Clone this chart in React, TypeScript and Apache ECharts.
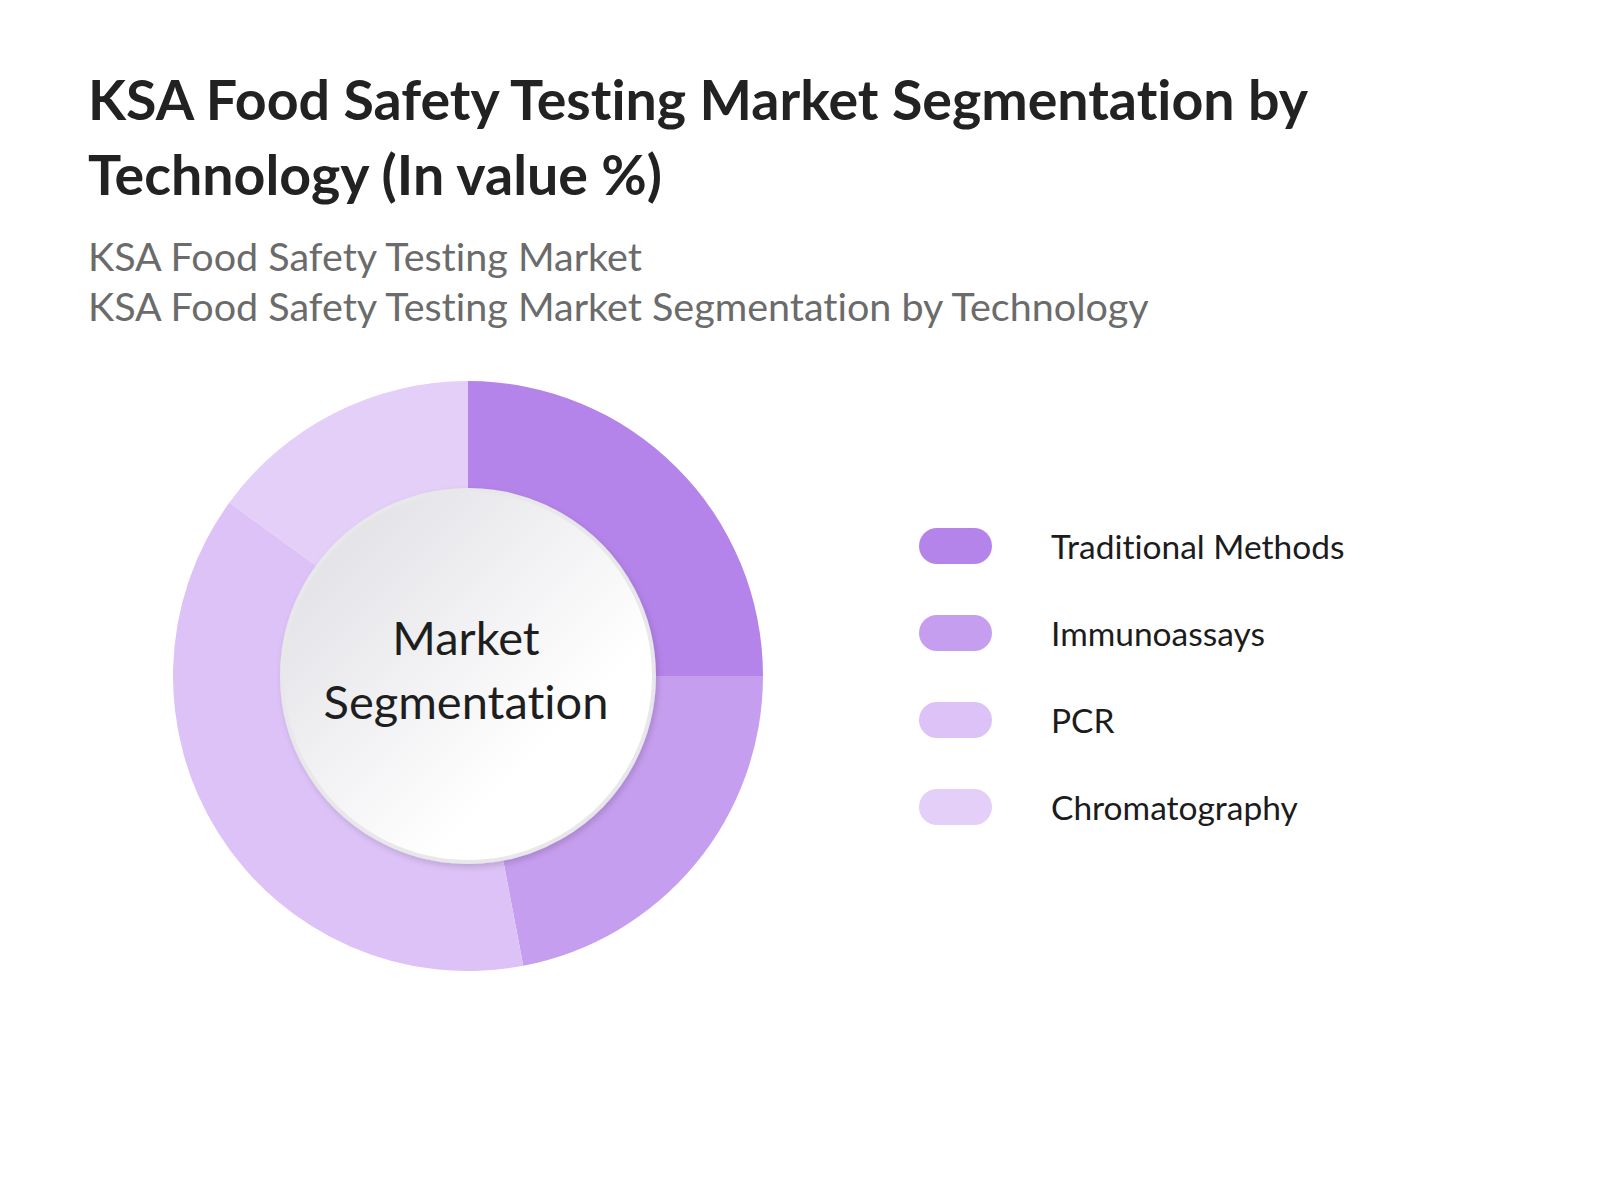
import * as echarts from "echarts"
import { useEffect, useRef } from "react"

const titleLines = ["KSA Food Safety Testing Market Segmentation by", "Technology (In value %)"]
const subtitleLines = ["KSA Food Safety Testing Market", "KSA Food Safety Testing Market Segmentation by Technology"]
const centerLines = ["Market", "Segmentation"]

const technologies = ["Traditional Methods", "Immunoassays", "PCR", "Chromatography"]
const shares = [25, 22, 38, 15]
const colors = ["#b584ea", "#c69eef", "#dcc2f7", "#e3cff8"]

const FONT = "Lato, 'Noto Sans', sans-serif"
const CX = 468
const CY = 676

// pill-shaped legend chip, same aspect as itemWidth x itemHeight
const PILL = "path://M18,0 H55 A18,18 0 0 1 55,36 H18 A18,18 0 0 1 18,0 Z"

export default function App() {
  const ref = useRef<HTMLDivElement>(null)

  useEffect(() => {
    if (!ref.current) return
    const chart = echarts.init(ref.current, null, { renderer: "svg" })

    chart.setOption({
      animation: false,
      backgroundColor: "#ffffff",
      title: [
        {
          text: titleLines.join("\n"),
          left: 83,
          top: 56,
          textStyle: { fontFamily: FONT, fontWeight: "bold", fontSize: 55.5, lineHeight: 75, color: "#222222" },
        },
        {
          text: subtitleLines.join("\n"),
          left: 83,
          top: 225,
          textStyle: { fontFamily: FONT, fontWeight: "normal", fontSize: 39.5, lineHeight: 50, color: "#6b6b6b" },
        },
      ],
      legend: {
        orient: "vertical",
        left: 914,
        top: 523,
        itemWidth: 73,
        itemHeight: 36,
        itemGap: 51,
        icon: PILL,
        selectedMode: false,
        data: technologies,
        textStyle: {
          fontFamily: FONT,
          fontSize: 33.5,
          lineHeight: 36,
          color: "#1c1c1c",
          padding: [0, 0, 0, 54],
        },
      },
      graphic: [
        {
          type: "circle",
          silent: true,
          z: 10,
          shape: { cx: CX, cy: CY, r: 186 },
          style: {
            fill: new echarts.graphic.LinearGradient(0, 0, 1, 1, [
              { offset: 0, color: "#dcdce2" },
              { offset: 0.7, color: "#ffffff" },
              { offset: 1, color: "#ffffff" },
            ]),
            stroke: "#e8e8eb",
            lineWidth: 4,
            shadowBlur: 6,
            shadowOffsetX: 2,
            shadowOffsetY: 3,
            shadowColor: "rgba(0,0,0,0.15)",
          },
        },
        {
          type: "text",
          silent: true,
          z: 11,
          x: CX - 2,
          y: CY - 7,
          style: {
            text: centerLines.join("\n"),
            fontFamily: FONT,
            fontSize: 47,
            lineHeight: 64,
            fill: "#1e1e1e",
            align: "center",
            verticalAlign: "middle",
          },
        },
      ],
      series: [
        {
          type: "pie",
          center: [CX, CY],
          radius: [180, 295],
          startAngle: 90,
          clockwise: true,
          silent: true,
          label: { show: false },
          labelLine: { show: false },
          emphasis: { disabled: true },
          itemStyle: { borderWidth: 0 },
          data: technologies.map((name, i) => ({
            name,
            value: shares[i],
            itemStyle: { color: colors[i] },
          })),
        },
      ],
    })

    return () => chart.dispose()
  }, [])

  return (
    <>
      <style>{"text, tspan { font-variant-ligatures: none !important; }"}</style>
      <div ref={ref} style={{ position: "fixed", left: 0, top: 0, width: 1600, height: 1200 }} />
    </>
  )
}
